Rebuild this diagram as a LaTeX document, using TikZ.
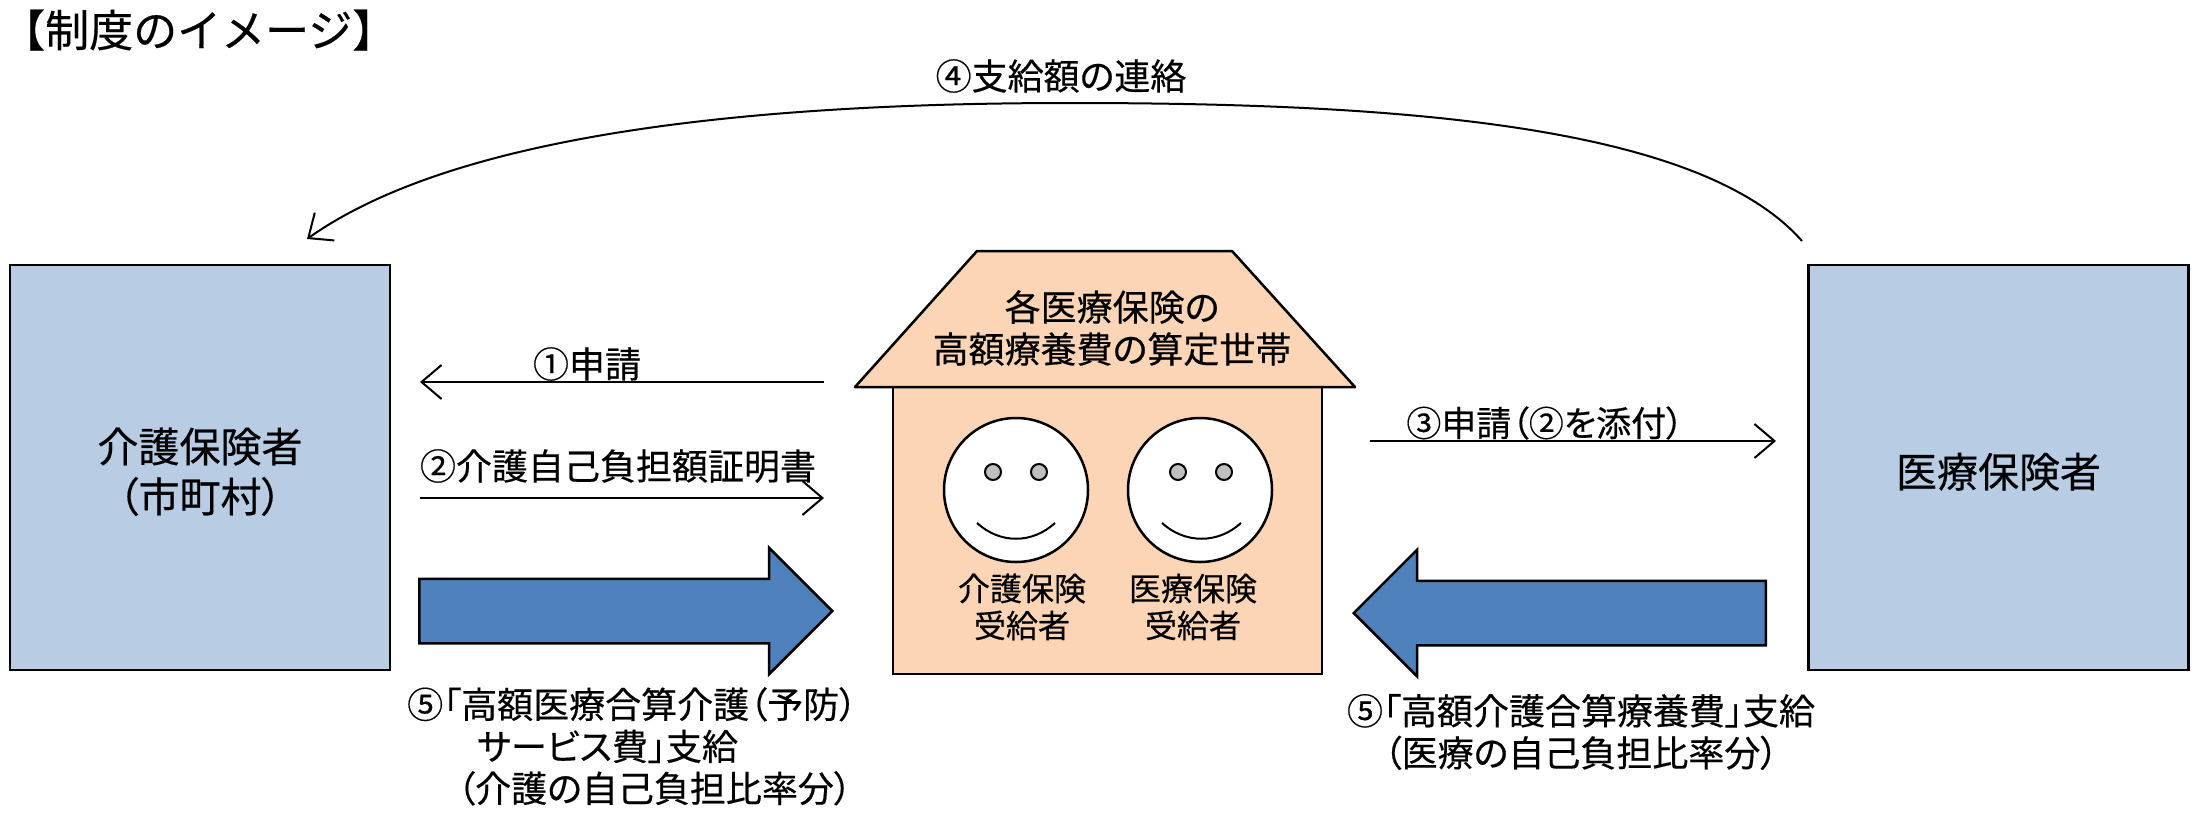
\documentclass[tikz,border=0pt]{standalone}
\usepackage{fontspec}
\setmainfont[RawFeature={+palt}, FakeBold=0.4]{Noto Sans CJK JP}
\newfontfamily\fullwidth[FakeBold=0.4]{Noto Sans CJK JP}
\usepackage{xcolor}
\usetikzlibrary{positioning, shapes, arrows.meta}

\definecolor{boxblue}{HTML}{B8CCE4}
\definecolor{arrowblue}{HTML}{4F81BD}
\definecolor{houseskin}{HTML}{FBD5B5}

\tikzset{
  hoken/.style={draw=black, line width=2.5pt, fill=boxblue, minimum width=380pt, minimum height=405pt, inner sep=0pt, align=center, font=\fontsize{41}{50}\selectfont},
  label/.style={inner sep=0pt, font=\fontsize{36}{42}\selectfont},
  small/.style={inner sep=0pt, align=center, font=\fontsize{32}{37}\selectfont},
  face/.style={draw=black, line width=2.5pt, fill=white, circle, minimum size=144pt, inner sep=0pt},
  eye/.style={draw=black, line width=2pt, fill=black!25, circle, minimum size=16pt, inner sep=0pt},
  thin arrow/.style={line width=2pt, -{Straight Barb[length=20pt,width=34pt,line width=2pt]}},
  big arrow/.style={single arrow, draw=black, line width=2.5pt, fill=arrowblue, inner sep=0pt, single arrow head extend=31pt, single arrow tip angle=90, anchor=tail},
}

\begin{document}
\begin{tikzpicture}[x=1pt, y=-1pt]
  \useasboundingbox (0,0) rectangle (2201,817);
  \node[anchor=west, inner sep=0pt, font=\fullwidth\fontsize{44}{50}\selectfont] (title) at (1,30) {【制度のイメージ】};

  \node[hoken] (kaigo) at (200,467.5) {\rule{0pt}{43pt}介護保険者\\（市町村）};
  \node[hoken] (iryo) at (1998.5,467.5) {\rule{0pt}{43pt}医療保険者};

  % house
  \node[draw=black, line width=2.5pt, fill=houseskin, minimum width=429pt, minimum height=287pt, inner sep=0pt] (body) at (1107.5,530.5) {};
  \draw[line width=2.5pt, fill=houseskin, line join=round] (855,387) -- (977,251) -- (1232,251) -- (1355,387) -- cycle;
  \node[label, align=center] (sanntei) at (1112,328) {各医療保険の\\高額療養費の算定世帯};

  \node[face] (kaoA) at (1016,490) {};
  \node[eye] at (993,472) {};
  \node[eye] at (1039,472) {};
  \draw[line width=2pt] (977,523) .. controls (1000,544) and (1032,544) .. (1055,523);
  \node[face] (kaoB) at (1200,490) {};
  \node[eye] at (1178,472) {};
  \node[eye] at (1224,472) {};
  \draw[line width=2pt] (1162,523) .. controls (1185,544) and (1218,544) .. (1241,523);
  \node[small] (jukyuA) at (1022,607) {介護保険\\受給者};
  \node[small] (jukyuB) at (1193,607) {医療保険\\受給者};

  % thin arrows
  \coordinate (a1) at (824,382);
  \coordinate (b1) at (420,382);
  \coordinate (a2) at (420,498);
  \coordinate (b2) at (824,498);
  \coordinate (a3) at (1370,441);
  \coordinate (b3) at (1776,441);
  \coordinate (a4) at (1802,241);
  \coordinate (b4) at (307,239);
  \coordinate (top4) at (1070,103);
  \draw[thin arrow] (a1) -- (b1);
  \draw[thin arrow] (a2) -- (b2);
  \draw[thin arrow] (a3) -- (b3);
  \draw[thin arrow] (a4) .. controls (1700,125) and (1400,103) .. (top4) .. controls (700,103) and (440,145) .. (b4);

  \node[label] (shinsei) at (587,364) {①申請};
  \node[label] (shomei) at (618,466) {②介護自己負担額証明書};
  \node[label, font=\fontsize{35}{42}\selectfont] (tenpu) at (1545,423) {③申請（②を添付）};
  \node[label] (renraku) at (1061,76) {④支給額の連絡};

  % big arrows
  \node[big arrow, minimum height=413pt] (payA) at (418,611) {\rule{0pt}{62pt}};
  \node[big arrow, minimum height=412pt, shape border rotate=180] (payB) at (1767,613) {\rule{0pt}{62pt}};

  \node[label, align=left, anchor=north west] (textA) at (407,687) {⑤「高額医療合算介護（予防）\\\hspace*{70pt}サービス費」支給\\\hspace*{50pt}（介護の自己負担比率分）};
  \node[label, align=center] (textB) at (1581,732) {⑤「高額介護合算療養費」支給\\（医療の自己負担比率分）};
\end{tikzpicture}
\end{document}
